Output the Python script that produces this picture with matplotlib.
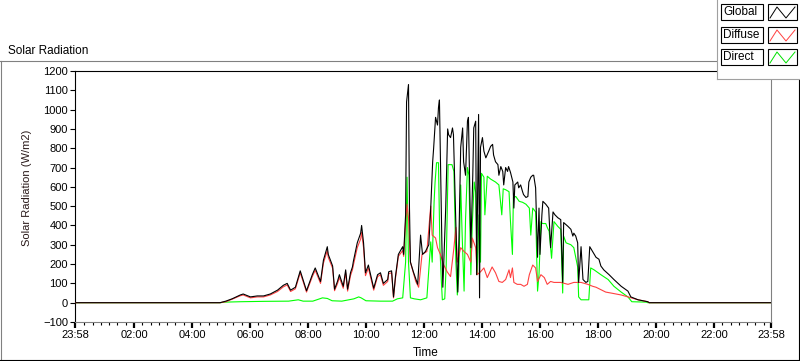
import matplotlib
matplotlib.use("Agg")
import matplotlib.pyplot as plt
from matplotlib.patches import Rectangle
from matplotlib.lines import Line2D

plt.rcParams['font.family'] = ['Liberation Sans', 'DejaVu Sans']

# ---- data ----
global_t = ["00:00", "04:58", "05:10", "05:23", "05:40", "05:46", "06:01", "06:15", "06:28", "06:42",
            "06:57", "07:09", "07:17", "07:24", "07:34", "07:44", "07:57", "08:09", "08:15", "08:26",
            "08:32", "08:40", "08:42", "08:51", "08:55", "09:01", "09:05", "09:13", "09:18", "09:22",
            "09:28", "09:32", "09:34", "09:42", "09:49", "09:51", "09:55", "09:59", "10:05", "10:16",
            "10:24", "10:30", "10:36", "10:45", "10:47", "10:53", "10:57", "11:01", "11:07", "11:16",
            "11:18", "11:22", "11:24", "11:28", "11:30", "11:32", "11:38", "11:47", "11:49", "11:53",
            "11:57", "12:03", "12:10", "12:14", "12:18", "12:20", "12:24", "12:28", "12:30", "12:32",
            "12:37", "12:39", "12:41", "12:45", "12:49", "12:51", "12:55", "12:59", "13:01", "13:06",
            "13:10", "13:12", "13:16", "13:20", "13:22", "13:26", "13:30", "13:32", "13:37", "13:41",
            "13:43", "13:47", "13:49", "13:53", "13:55", "13:57", "14:01", "14:04", "14:08", "14:14",
            "14:18", "14:22", "14:24", "14:28", "14:33", "14:35", "14:39", "14:43", "14:45", "14:49",
            "14:53", "14:55", "14:59", "15:04", "15:06", "15:08", "15:14", "15:16", "15:20", "15:24",
            "15:26", "15:31", "15:35", "15:37", "15:41", "15:45", "15:47", "15:51", "15:55", "15:58",
            "16:00", "16:04", "16:06", "16:12", "16:18", "16:22", "16:27", "16:31", "16:37", "16:43",
            "16:47", "16:49", "16:58", "17:04", "17:08", "17:10", "17:14", "17:18", "17:20", "17:25",
            "17:29", "17:35", "17:39", "17:43", "17:49", "17:56", "18:02", "18:06", "18:12", "18:23",
            "18:33", "18:48", "19:02", "19:08", "19:23", "19:43", "19:46", "23:58"]
global_v = [0, 0, 8, 20, 40, 45, 30, 35, 35, 45,
            65, 90, 100, 65, 80, 165, 62, 145, 180, 110,
            220, 290, 250, 190, 70, 110, 145, 85, 170, 70,
            155, 185, 215, 310, 360, 400, 310, 155, 195, 75,
            145, 155, 100, 120, 160, 165, 30, 135, 250, 290,
            250, 455, 1040, 1130, 490, 210, 160, 95, 180, 350,
            250, 265, 300, 490, 730, 800, 960, 920, 1010, 1050,
            315, 80, 210, 490, 900, 870, 855, 905, 870, 405,
            55, 285, 805, 905, 730, 660, 940, 960, 285, 660,
            905, 940, 145, 975, 25, 805, 855, 785, 750, 785,
            810, 820, 765, 730, 715, 660, 705, 680, 610, 700,
            680, 705, 675, 625, 490, 610, 625, 595, 610, 575,
            560, 545, 550, 625, 650, 660, 660, 595, 235, 490,
            250, 455, 525, 510, 490, 285, 470, 455, 440, 430,
            105, 415, 395, 380, 345, 360, 345, 310, 105, 290,
            120, 105, 110, 290, 265, 235, 225, 190, 170, 145,
            120, 85, 60, 30, 15, 5, 0, 0]

diffuse_t = ["00:00", "04:58", "05:10", "05:23", "05:40", "05:46", "06:01", "06:15", "06:28", "06:42",
             "06:57", "07:09", "07:17", "07:24", "07:34", "07:44", "07:57", "08:09", "08:15", "08:26",
             "08:32", "08:40", "08:42", "08:51", "08:55", "09:01", "09:05", "09:13", "09:18", "09:22",
             "09:28", "09:32", "09:34", "09:42", "09:49", "09:51", "09:55", "09:59", "10:05", "10:16",
             "10:24", "10:30", "10:36", "10:45", "10:47", "10:53", "10:57", "11:01", "11:07", "11:16",
             "11:18", "11:22", "11:25", "11:28", "11:32", "11:43", "11:49", "11:56", "12:06", "12:14",
             "12:17", "12:24", "12:28", "12:34", "12:41", "12:48", "12:55", "13:02", "13:06", "13:09",
             "13:16", "13:23", "13:30", "13:37", "13:40", "13:47", "13:50", "13:57", "14:04", "14:11",
             "14:21", "14:28", "14:35", "14:42", "14:49", "14:56", "14:59", "15:03", "15:06", "15:13",
             "15:20", "15:27", "15:34", "15:38", "15:45", "15:51", "15:55", "16:02", "16:09", "16:15",
             "16:22", "16:29", "16:37", "16:43", "16:58", "17:10", "17:25", "17:39", "17:49", "17:56",
             "18:16", "18:27", "18:48", "19:02", "19:23", "19:43", "19:46", "23:58"]
diffuse_v = [0, 0, 5, 18, 36, 40, 25, 30, 30, 40,
             58, 82, 92, 58, 72, 155, 55, 135, 168, 100,
             205, 270, 235, 178, 62, 98, 130, 75, 155, 60,
             140, 170, 195, 285, 330, 365, 285, 140, 180, 65,
             135, 145, 90, 110, 150, 155, 25, 125, 240, 270,
             240, 420, 510, 440, 210, 110, 80, 250, 265, 500,
             350, 335, 285, 250, 195, 160, 135, 285, 390, 210,
             285, 265, 250, 210, 335, 285, 145, 160, 180, 130,
             185, 155, 110, 105, 120, 170, 130, 180, 105, 95,
             95, 85, 95, 145, 195, 180, 110, 145, 130, 95,
             110, 105, 105, 105, 95, 105, 105, 95, 85, 80,
             55, 50, 40, 30, 15, 5, 0, 0]

direct_t = ["00:00", "04:58", "05:10", "05:40", "06:30", "07:20", "07:40", "07:50", "08:10", "08:30",
            "08:40", "08:50", "09:10", "09:35", "09:45", "09:50", "10:00", "10:30", "10:55", "11:05",
            "11:16", "11:22", "11:25", "11:28", "11:32", "11:40", "11:53", "12:06", "12:14", "12:17",
            "12:21", "12:23", "12:26", "12:30", "12:33", "12:36", "12:38", "12:43", "12:46", "12:50",
            "12:58", "13:02", "13:06", "13:09", "13:12", "13:16", "13:19", "13:23", "13:26", "13:30",
            "13:33", "13:37", "13:40", "13:44", "13:47", "13:50", "13:54", "13:57", "13:59", "14:04",
            "14:06", "14:11", "14:18", "14:28", "14:35", "14:41", "14:44", "14:49", "14:56", "14:59",
            "15:03", "15:05", "15:10", "15:17", "15:24", "15:31", "15:38", "15:41", "15:45", "15:51",
            "15:55", "15:58", "16:02", "16:05", "16:12", "16:15", "16:19", "16:24", "16:29", "16:37",
            "16:43", "16:47", "16:49", "16:54", "17:04", "17:10", "17:18", "17:20", "17:25", "17:41",
            "17:45", "17:52", "18:06", "18:21", "18:33", "18:48", "19:02", "19:10", "19:40", "19:43",
            "23:58"]
direct_v = [0, 0, 3, 5, 7, 8, 15, 8, 8, 25,
            22, 10, 8, 20, 30, 25, 10, 8, 8, 20,
            25, 210, 650, 210, 25, 20, 15, 25, 315, 210,
            525, 625, 725, 725, 285, 110, 15, 20, 195, 715,
            715, 680, 210, 40, 145, 610, 350, 60, 430, 700,
            660, 145, 410, 625, 570, 145, 455, 210, 670, 650,
            455, 655, 640, 625, 610, 455, 590, 585, 575, 420,
            250, 545, 550, 525, 520, 510, 490, 350, 490, 470,
            60, 145, 420, 410, 410, 390, 370, 230, 420, 395,
            380, 50, 345, 310, 300, 285, 185, 30, 15, 15,
            180, 170, 145, 120, 85, 55, 30, 5, 3, 0,
            0]


def to_hours(times):
    out = []
    for s in times:
        h, m = s.split(":")
        out.append(int(h) + int(m) / 60.0)
    return out


W, H = 800, 361
fig = plt.figure(figsize=(W / 100, H / 100), dpi=100)
fig.patch.set_facecolor("white")

# axes placed in pixel terms: left 75, right 771, top 71, bottom 322
ax = fig.add_axes([75 / W, 1 - 322 / H, (771 - 75) / W, (322 - 71) / H])

ax.plot(to_hours(direct_t), direct_v, color="#00ff00", lw=0.8, zorder=2)
ax.plot(to_hours(diffuse_t), diffuse_v, color="#ff4040", lw=0.8, zorder=3)
ax.plot(to_hours(global_t), global_v, color="black", lw=0.8, zorder=4)

start = -2 / 60.0
ax.set_xlim(start, 24 + start)
ax.set_ylim(-100, 1200)

ax.spines['left'].set_color("black")
ax.spines['top'].set_color("black")
ax.spines['right'].set_color("#808080")
ax.spines['bottom'].set_color("#808080")
for s in ax.spines.values():
    s.set_linewidth(0.8)

ax.set_yticks(range(-100, 1201, 100))
ax.tick_params(axis='y', length=3.6, width=0.8, pad=1.5, labelsize=8, colors="black")

majors = [start] + list(range(2, 24, 2)) + [24 + start]
ax.set_xticks(majors)
ax.set_xticklabels(["23:58"] + ["%02d:00" % h for h in range(2, 24, 2)] + ["23:58"])
minors = [2 * k + j * 2 / 7.0 for k in range(-1, 12) for j in range(1, 7)]
minors = [m for m in minors if start < m < 24 + start]
ax.set_xticks(minors, minor=True)
ax.tick_params(axis='x', which='major', length=4, width=1.6, pad=2, labelsize=8, colors="black")
ax.tick_params(axis='x', which='minor', length=2.5, width=0.8, colors="black")

ax.set_ylabel("Solar Radiation (W/m2)", fontsize=8, color="#2a1a1a")
ax.yaxis.set_label_coords(-0.062, 0.535)
ax.set_xlabel("Time", fontsize=8.5, color="black", va="center")
ax.xaxis.set_label_coords(0.504, -0.124)

# chart caption and panel frame
fig.text(8 / W, 1 - 51 / H, "Solar Radiation", fontsize=8.5, va="center", ha="left")


def fx(x):
    return x / W


def fy(y):
    return 1 - y / H


fig.lines.append(Line2D([fx(0), fx(717)], [fy(61), fy(61)], color="#808080", lw=0.8, transform=fig.transFigure))
fig.lines.append(Line2D([fx(0.5), fx(0.5)], [fy(61), fy(361)], color="#808080", lw=0.8, transform=fig.transFigure))
fig.lines.append(Line2D([fx(0), fx(800)], [fy(360), fy(360)], color="black", lw=0.8, transform=fig.transFigure))
fig.lines.append(Line2D([fx(799), fx(799)], [fy(79), fy(361)], color="black", lw=0.8, transform=fig.transFigure))

# legend panel
fig.patches.append(Rectangle((fx(717), fy(79)), fx(83), 79 / H, facecolor="white", edgecolor="none",
                             transform=fig.transFigure, zorder=5))
fig.lines.append(Line2D([fx(717), fx(717)], [fy(0), fy(79)], color="#a0a0a0", lw=0.8,
                        transform=fig.transFigure, zorder=6))
fig.lines.append(Line2D([fx(717), fx(800)], [fy(79), fy(79)], color="#a0a0a0", lw=0.8,
                        transform=fig.transFigure, zorder=6))

legend_names = ["Global", "Diffuse", "Direct"]
legend_colors = ["black", "#ff4040", "#00e000"]
legend_tops = [4, 27, 49]
for name, col, top in zip(legend_names, legend_colors, legend_tops):
    fig.patches.append(Rectangle((fx(721), fy(top + 16)), fx(42), 16 / H, facecolor="white",
                                 edgecolor="black", lw=0.8, transform=fig.transFigure, zorder=7))
    fig.text(fx(723), fy(top + 8), name, fontsize=8.5, va="center", ha="left", zorder=8)
    fig.patches.append(Rectangle((fx(768), fy(top + 16)), fx(29), 16 / H, facecolor="white",
                                 edgecolor="black", lw=0.8, transform=fig.transFigure, zorder=7))
    zx = [770, 777, 786, 795]
    zy = [top + 14, top + 3, top + 14, top + 3]
    fig.lines.append(Line2D([fx(v) for v in zx], [fy(v) for v in zy], color=col, lw=0.7,
                            transform=fig.transFigure, zorder=8))

fig.savefig("out.png", dpi=100, facecolor="white")
